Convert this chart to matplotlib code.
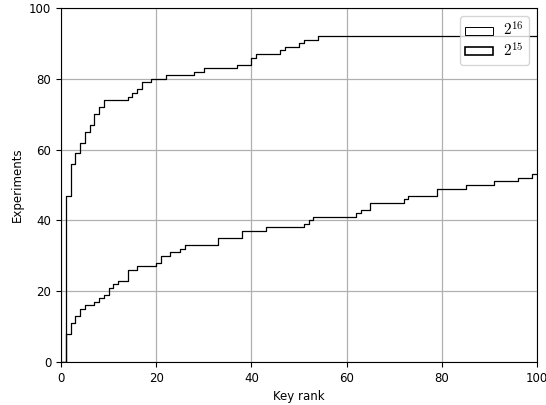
import matplotlib
matplotlib.use("Agg")
import matplotlib.pyplot as plt
from matplotlib.patches import Patch

plt.rcParams['mathtext.fontset'] = 'cm'

# key rank where the cumulative count changes, and the count from there on
rank16 = [0, 1, 2, 3, 4, 5, 6, 7, 8, 9, 14, 15, 16, 17, 19, 22, 28, 30, 37,
          40, 41, 46, 47, 50, 51, 54, 100]
count16 = [0, 47, 56, 59, 62, 65, 67, 70, 72, 74, 75, 76, 77, 79, 80, 81, 82,
           83, 84, 86, 87, 88, 89, 90, 91, 92, 92]

rank15 = [0, 1, 2, 3, 4, 5, 7, 8, 9, 10, 11, 12, 14, 16, 20, 21, 23, 25, 26,
          33, 38, 43, 51, 52, 53, 62, 63, 65, 72, 73, 79, 85, 91, 96, 99, 100]
count15 = [0, 8, 11, 13, 15, 16, 17, 18, 19, 21, 22, 23, 26, 27, 28, 30, 31,
           32, 33, 35, 37, 38, 39, 40, 41, 42, 43, 45, 46, 47, 49, 50, 51, 52,
           53, 53]

fig = plt.figure(figsize=(5.46, 4.05), dpi=100)
ax1 = fig.add_axes([61 / 546, 1 - 362 / 405, 476 / 546, 354 / 405])

ax1.step(rank16, count16, where='post', color='k', lw=0.9)
ax1.step(rank15, count15, where='post', color='k', lw=0.9)

ax1.set_xlim(0, 100)
ax1.set_ylim(0, 100)
ax1.set_xticks([0, 20, 40, 60, 80, 100])
ax1.set_yticks([0, 20, 40, 60, 80, 100])
ax1.tick_params(labelsize=8.5)
ax1.set_xlabel('Key rank', fontsize=8.5)
ax1.set_ylabel('Experiments', fontsize=8.5)
ax1.grid(color='#b0b0b0', lw=0.9)
ax1.set_axisbelow(True)

handles = [Patch(facecolor='white', edgecolor='k', lw=0.7, label='$2^{16}$'),
           Patch(facecolor='white', edgecolor='k', lw=1.2, label='$2^{15}$')]
ax1.legend(handles=handles, loc='upper right', fontsize=11,
           handlelength=1.8, handleheight=0.45, handletextpad=0.7,
           borderpad=0.35, labelspacing=0.15, fancybox=True)

fig.savefig('out.png', dpi=100)
